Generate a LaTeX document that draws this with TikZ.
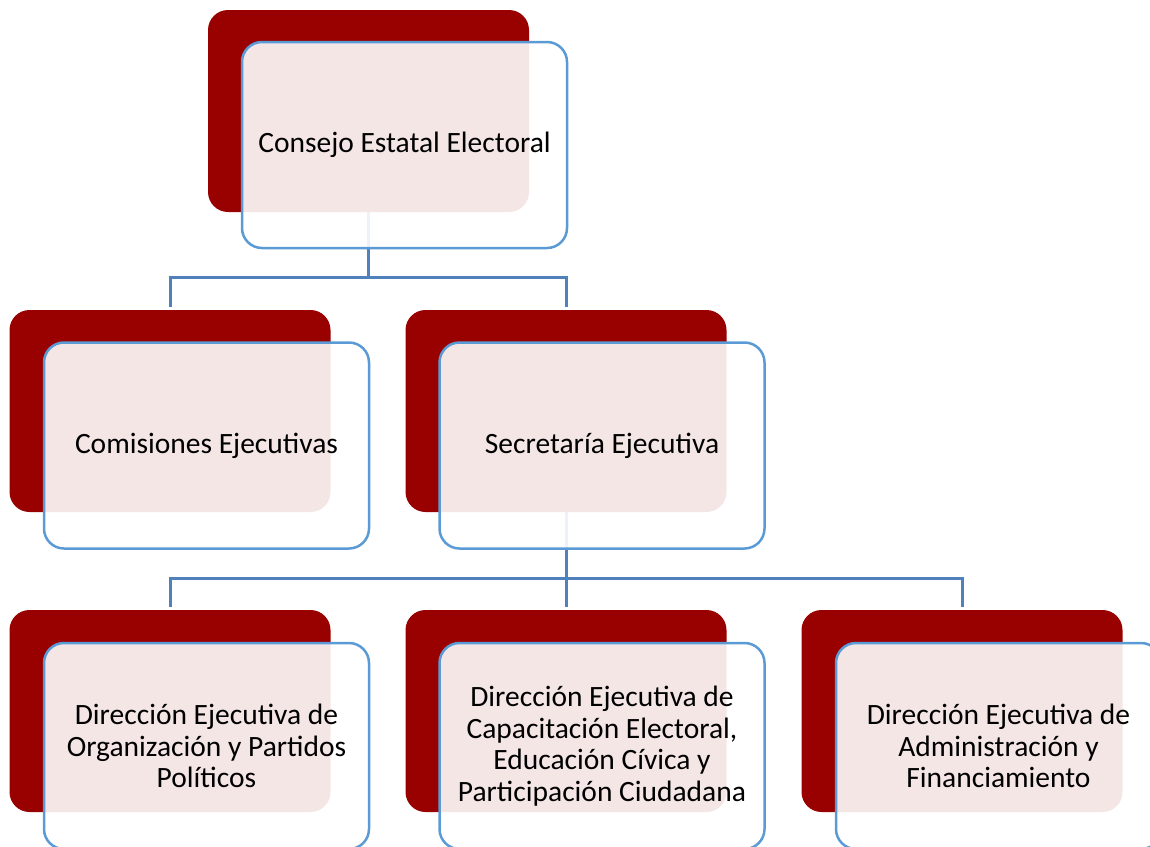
\documentclass[tikz,border=0pt]{standalone}
\usepackage{fontspec}
\setmainfont{Carlito}
\definecolor{darkred}{HTML}{990000}
\definecolor{frontblue}{HTML}{5B9BD5}
\definecolor{connblue}{HTML}{4F81BD}
\tikzset{
  backbox/.style={fill=darkred, rounded corners=20pt, minimum width=321pt, minimum height=202pt, inner sep=0pt},
  frontbox/.style={draw=frontblue, line width=2.5pt, fill=white, fill opacity=0.9, text opacity=1,
    rounded corners=20pt, minimum width=325pt, minimum height=206pt, inner sep=0pt, align=center,
    font=\fontsize{29.5pt}{31.5pt}\selectfont},
  conn/.style={draw=connblue, line width=3pt}
}
\begin{document}
\begin{tikzpicture}[x=1pt,y=-1pt]
\useasboundingbox (0,0) rectangle (1150,846);
\clip (0,0) rectangle (1150,846);
% back boxes
\node[backbox] (b1) at (368.5,111) {};
\node[backbox] (b2) at (170,411) {};
\node[backbox] (b3) at (566,411) {};
\node[backbox] (b4) at (170,711) {};
\node[backbox] (b5) at (566,711) {};
\node[backbox] (b6) at (962,711) {};
% connectors
\coordinate (j1) at (368.5,277);
\coordinate (j2) at (566,578);
\draw[conn] (b1.south) -- (j1) -| ([yshift=3pt]b2.north);
\draw[conn] (j1) -| ([yshift=3pt]b3.north);
\draw[conn] (b3.south) -- (j2) -| ([yshift=3pt]b4.north);
\draw[conn] (j2) -- ([yshift=3pt]b5.north);
\draw[conn] (j2) -| ([yshift=3pt]b6.north);
% front boxes
\node[frontbox] (f1) at (404.5,145) {Consejo Estatal Electoral};
\node[frontbox] (f2) at (206.5,445.5) {Comisiones Ejecutivas};
\node[frontbox] (f3) at (602,445.5) {Secretaría Ejecutiva};
\node[frontbox] (f4) at (206.5,746) {Dirección Ejecutiva de\\Organización y Partidos\\Políticos};
\node[frontbox] (f5) at (602,746) {Dirección Ejecutiva de\\Capacitación Electoral,\\Educación Cívica y\\Participación Ciudadana};
\node[frontbox] (f6) at (998.5,746) {Dirección Ejecutiva de\\Administración y\\Financiamiento};
\end{tikzpicture}
\end{document}
